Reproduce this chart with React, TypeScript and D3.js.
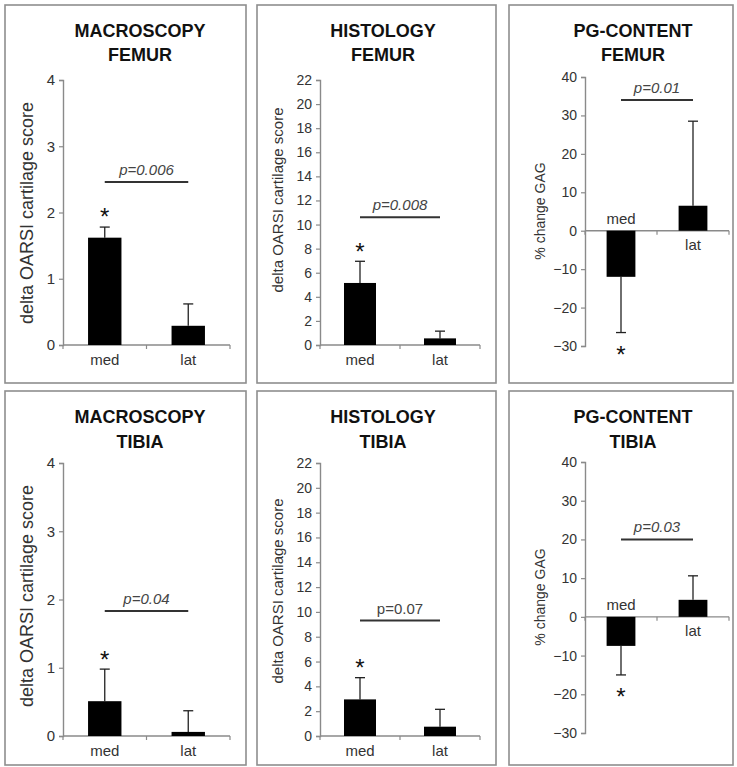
import React, { useEffect, useRef } from "react";
import * as d3 from "d3";

// Categories and group means / upper SD for each panel
const categories = ["med", "lat"];
const methodTitles = ["MACROSCOPY", "HISTOLOGY", "PG-CONTENT"];
const siteTitles = ["FEMUR", "TIBIA"];

const macroFemur = [1.62, 0.29];
const macroFemurSD = [0.16, 0.33];
const histoFemur = [5.15, 0.55];
const histoFemurSD = [1.8, 0.6];
const pgFemur = [-12, 6.5];
const pgFemurSD = [14.5, 22];

const macroTibia = [0.51, 0.06];
const macroTibiaSD = [0.47, 0.31];
const histoTibia = [2.95, 0.75];
const histoTibiaSD = [1.75, 1.4];
const pgTibia = [-7.5, 4.4];
const pgTibiaSD = [7.5, 6.2];

// y-axis domains and tick values per method
const macroDomain = [0, 4];
const histoDomain = [0, 22];
const pgDomain = [-30, 40];
const macroTicks = d3.range(0, 5, 1);
const histoTicks = d3.range(0, 23, 2);
const pgTicks = d3.range(-30, 41, 10);

const yLabels = ["delta OARSI cartilage score", "delta OARSI cartilage score", "% change GAG"];

// significance bars: label and level in data units
const pLabels = ["p=0.006", "p=0.008", "p=0.01", "p=0.04", "p=0.07", "p=0.03"];
const pItalic = [true, true, true, true, false, true];
const pLevels = [2.46, 10.6, 34, 1.83, 9.3, 20];
const starred = [true, true, true, true, true, true];

const panelValues = [macroFemur, histoFemur, pgFemur, macroTibia, histoTibia, pgTibia];
const panelSD = [macroFemurSD, histoFemurSD, pgFemurSD, macroTibiaSD, histoTibiaSD, pgTibiaSD];
const domains = [macroDomain, histoDomain, pgDomain];
const tickSets = [macroTicks, histoTicks, pgTicks];

// layout
const W = 737;
const H = 767;
const colX = [5, 257, 509];
const colW = [241, 239, 224];
const rowY = [5, 391];
const rowH = [378, 374];
const axisX = [63, 320, 585];
const axisEnd = [230, 480, 729];
const yRanges = [
  [[345, 80], [345, 80], [346, 77]],
  [[736, 463], [736, 463], [733, 462]],
];
const titleX = [140, 383, 633];
const titleBase = [[37, 61], [423, 448]];
const yLabelX = [27, 277, 540];
const yLabelY = [[213, 200, 211], [596, 591, 597]];
const yLabelSize = [18, 15, 14];
const tickSize = [15, 14, 14];

const FONT = "'Liberation Sans', Arial, Helvetica, sans-serif";

export default function App() {
  const ref = useRef<SVGSVGElement | null>(null);

  useEffect(() => {
    const svg = d3.select(ref.current);
    svg.selectAll("*").remove();

    for (let r = 0; r < 2; r++) {
      for (let c = 0; c < 3; c++) {
        const idx = r * 3 + c;
        const g = svg.append("g");
        const values = panelValues[idx];
        const sd = panelSD[idx];

        // panel frame
        g.append("rect")
          .attr("x", colX[c])
          .attr("y", rowY[r])
          .attr("width", colW[c])
          .attr("height", rowH[r])
          .attr("fill", "#fff")
          .attr("stroke", "#8e8e8e")
          .attr("stroke-width", 1.6);

        // titles
        [methodTitles[c], siteTitles[r]].forEach((t, k) => {
          g.append("text")
            .attr("x", titleX[c])
            .attr("y", titleBase[r][k])
            .attr("text-anchor", "middle")
            .attr("font-family", FONT)
            .attr("font-weight", "bold")
            .attr("font-size", 18)
            .attr("fill", "#111")
            .text(t);
        });

        const y = d3.scaleLinear().domain(domains[c]).range(yRanges[r][c]);
        const x = d3
          .scaleBand<string>()
          .domain(categories)
          .range([axisX[c], axisEnd[c]])
          .paddingInner(0.6)
          .paddingOuter(0.3);
        const y0 = y(0);

        // y axis
        const yAxis = d3
          .axisLeft(y)
          .tickValues(tickSets[c])
          .tickSize(4)
          .tickPadding(4)
          .tickFormat(d3.format("d"));
        const ya = g.append("g").attr("transform", `translate(${axisX[c]},0)`).call(yAxis);
        ya.attr("font-size", tickSize[c]).attr("font-family", FONT);
        ya.select(".domain").attr("stroke", "#8a8a8a").attr("stroke-width", 1.4);
        ya.selectAll(".tick line").attr("stroke", "#8a8a8a").attr("stroke-width", 1.2);
        ya.selectAll(".tick text").attr("fill", "#333");

        // x axis along zero line, ticks at category boundaries
        const xb = g.append("g");
        xb.append("line")
          .attr("x1", axisX[c])
          .attr("x2", axisEnd[c])
          .attr("y1", y0)
          .attr("y2", y0)
          .attr("stroke", "#8a8a8a")
          .attr("stroke-width", 1.4);
        const step = x.step();
        [0, 1, 2].forEach((k) => {
          const tx = axisX[c] + k * step;
          xb.append("line")
            .attr("x1", tx)
            .attr("x2", tx)
            .attr("y1", y0)
            .attr("y2", y0 + 4)
            .attr("stroke", "#8a8a8a")
            .attr("stroke-width", 1.2);
        });

        // bars + upper error bars
        categories.forEach((cat, i) => {
          const v = values[i];
          const cx = (x(cat) as number) + x.bandwidth() / 2;
          const dir = v >= 0 ? 1 : -1;
          const errEnd = v + dir * sd[i];

          g.append("line")
            .attr("x1", cx)
            .attr("x2", cx)
            .attr("y1", y(v))
            .attr("y2", y(errEnd))
            .attr("stroke", "#222")
            .attr("stroke-width", 1.3);
          g.append("line")
            .attr("x1", cx - 5)
            .attr("x2", cx + 5)
            .attr("y1", y(errEnd))
            .attr("y2", y(errEnd))
            .attr("stroke", "#222")
            .attr("stroke-width", 1.3);

          g.append("rect")
            .attr("x", x(cat) as number)
            .attr("width", x.bandwidth())
            .attr("y", Math.min(y(v), y0))
            .attr("height", Math.abs(y(v) - y0))
            .attr("fill", "#000");

          // category label on the side opposite the bar
          const labelY = c === 2 ? (v < 0 ? y0 - 7 : y0 + 19) : y0 + 20;
          g.append("text")
            .attr("x", cx)
            .attr("y", labelY)
            .attr("text-anchor", "middle")
            .attr("font-family", FONT)
            .attr("font-size", 15)
            .attr("fill", "#333")
            .text(cat);

          if (i === 0 && starred[idx]) {
            const sSize = 24;
            const centerY = y(errEnd) - dir * 16;
            g.append("text")
              .attr("x", cx)
              .attr("y", centerY + 0.6 * sSize)
              .attr("text-anchor", "middle")
              .attr("font-family", FONT)
              .attr("font-size", sSize)
              .attr("fill", "#111")
              .text("*");
          }
        });

        // significance line and p-value
        const c0 = (x(categories[0]) as number) + x.bandwidth() / 2;
        const c1 = (x(categories[1]) as number) + x.bandwidth() / 2;
        const py = y(pLevels[idx]);
        g.append("line")
          .attr("x1", c0)
          .attr("x2", c1)
          .attr("y1", py)
          .attr("y2", py)
          .attr("stroke", "#333")
          .attr("stroke-width", 2);
        g.append("text")
          .attr("x", (c0 + c1) / 2)
          .attr("y", py - 7)
          .attr("text-anchor", "middle")
          .attr("font-family", FONT)
          .attr("font-size", 15)
          .attr("font-style", pItalic[idx] ? "italic" : "normal")
          .attr("fill", "#444")
          .text(pLabels[idx]);

        // y-axis title
        g.append("text")
          .attr("transform", `translate(${yLabelX[c]},${yLabelY[r][c]}) rotate(-90)`)
          .attr("text-anchor", "middle")
          .attr("dominant-baseline", "central")
          .attr("font-family", FONT)
          .attr("font-size", yLabelSize[c])
          .attr("fill", "#333")
          .text(yLabels[c]);
      }
    }
  }, []);

  return (
    <svg
      ref={ref}
      width={W}
      height={H}
      style={{ position: "absolute", left: 0, top: 0, background: "#fff" }}
    />
  );
}
